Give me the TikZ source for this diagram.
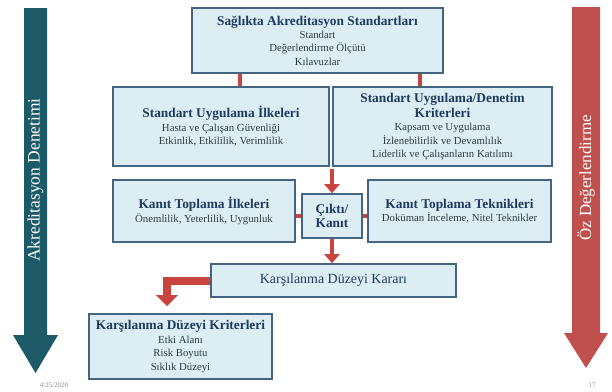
\documentclass[tikz,border=0pt]{standalone}
\usepackage{fontspec}
\setmainfont{Liberation Serif}
\usetikzlibrary{arrows.meta,calc}
\definecolor{boxfill}{HTML}{DCEEF4}
\definecolor{boxdraw}{HTML}{45647F}
\definecolor{navy}{HTML}{1F3A60}
\definecolor{subtxt}{HTML}{2F3A45}
\definecolor{conred}{HTML}{C9443F}
\definecolor{teal}{HTML}{1D5A68}
\definecolor{sidered}{HTML}{C0504D}
\definecolor{foot}{HTML}{8A8A8A}
\tikzset{
  box/.style={draw=boxdraw, line width=1.6bp, fill=boxfill, align=center, inner sep=0pt, anchor=center, font=\fontsize{10.8}{13.5}\selectfont},
  redlink/.style={draw=conred, line width=4.5bp},
  redarrow/.style={draw=conred, line width=4.5bp, -{Triangle[width=15bp,length=9bp]}},
  bigarrow/.style={draw=conred, line width=8bp, -{Triangle[width=21bp,length=11bp]}},
  sidetext/.style={rotate=90, text=white},
}
\newcommand{\ttlx}[1]{{\fontsize{13.4}{13.5}\selectfont\bfseries\color{navy}#1}}
\newcommand{\subx}[1]{{\color{subtxt}#1}}
\begin{document}
\begin{tikzpicture}[x=1bp,y=-1bp]
\useasboundingbox (0,0) rectangle (612,391);
% side arrows
\fill[teal] (24,8) -- (47,8) -- (47,335) -- (58,335) -- (35.5,373) -- (13,335) -- (24,335) -- cycle;
\node[sidetext, font=\fontsize{17.5}{18}\selectfont] (akr) at (35.5,180) {Akreditasyon Denetimi};
\fill[sidered] (572,7) -- (600,7) -- (600,333) -- (608,333) -- (586,368) -- (564,333) -- (572,333) -- cycle;
\node[sidetext, font=\fontsize{17}{18}\selectfont] (oz) at (586,178) {Öz Değerlendirme};
% boxes
\node[box, minimum width=251bp, minimum height=65bp] (top) at (317.5,40.5)
  {\ttlx{Sağlıkta Akreditasyon Standartları}\\[-0.5bp] \subx{Standart}\\ \subx{Değerlendirme Ölçütü}\\ \subx{Kılavuzlar}};
\node[box, minimum width=216bp, minimum height=79bp] (b2) at (221,126.5)
  {\ttlx{Standart Uygulama İlkeleri}\\ \subx{Hasta ve Çalışan Güvenliği}\\ \subx{Etkinlik, Etkililik, Verimlilik}};
\node[box, minimum width=219bp, minimum height=79bp] (b3) at (442.5,126.5)
  {\ttlx{Standart Uygulama/Denetim}\\[1.5bp] \ttlx{Kriterleri}\\ \subx{Kapsam ve Uygulama}\\ \subx{İzlenebilirlik ve Devamlılık}\\ \subx{Liderlik ve Çalışanların Katılımı}};
\node[box, minimum width=60bp, minimum height=44bp] (cikti) at (332,216)
  {\ttlx{Çıktı/}\\[1bp] \ttlx{Kanıt}};
\node[box, minimum width=182bp, minimum height=62bp] (ilk) at (204,211)
  {\ttlx{Kanıt Toplama İlkeleri}\\ \subx{Önemlilik, Yeterlilik, Uygunluk}};
\node[box, minimum width=183bp, minimum height=62bp] (tek) at (459.5,211)
  {\ttlx{Kanıt Toplama Teknikleri}\\ \subx{Doküman İnceleme, Nitel Teknikler}};
\node[box, minimum width=245bp, minimum height=33bp] (karar) at (333.5,280.5)
  {{\fontsize{14}{14}\selectfont\color{navy}Karşılanma Düzeyi Kararı}};
\node[box, minimum width=183bp, minimum height=65bp] (krit) at (180.5,346.5)
  {\ttlx{Karşılanma Düzeyi Kriterleri}\\ \subx{Etki Alanı}\\ \subx{Risk Boyutu}\\ \subx{Sıklık Düzeyi}};
% connectors
\coordinate (c1) at (240,0);
\coordinate (c2) at (420,0);
\draw[redlink] (c1 |- top.south) -- (c1 |- b2.north);
\draw[redlink] (c2 |- top.south) -- (c2 |- b3.north);
\coordinate (gap) at ($(b2.south east)!0.5!(b3.south west)+(0,2)$);
\draw[redarrow] (cikti.north |- gap) -- (cikti.north);
\draw[redlink] (cikti.west) -- (ilk.east |- cikti.west);
\draw[redlink] (cikti.east) -- (tek.west |- cikti.east);
\draw[redarrow] (cikti.south) -- (cikti.south |- karar.north);
\coordinate (elb) at (167,0);
\draw[bigarrow, shorten >=7bp] (karar.west) -- (elb |- karar.west) -- (elb |- krit.north);
% footer
\node[text=foot, font=\fontsize{7}{8}\selectfont] (date) at (54,385) {4/25/2020};
\node[text=foot, font=\fontsize{7}{8}\selectfont] (pg) at (592,385) {17};
\end{tikzpicture}
\end{document}
